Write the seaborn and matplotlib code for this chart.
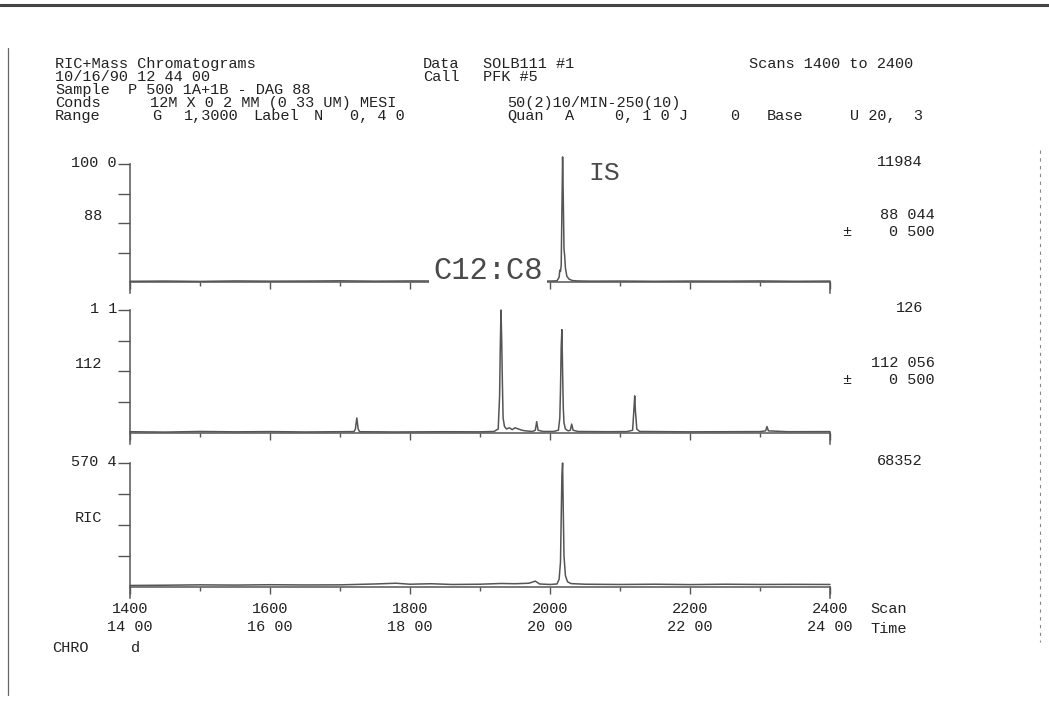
import matplotlib
matplotlib.use("Agg")
import matplotlib.pyplot as plt
from matplotlib.lines import Line2D
import seaborn as sns
import pandas as pd

# ---------------- data ----------------
scan_88 = [1400, 1450, 1500, 1550, 1600, 1650, 1700, 1750, 1800, 1850, 1900, 1950, 2000,
           2010, 2013, 2014, 2015, 2016, 2017, 2018, 2019, 2020, 2021, 2022, 2024, 2027, 2032,
           2040, 2060, 2100, 2150, 2200, 2250, 2300, 2350, 2400]
int_88 = [0.6, 0.8, 0.5, 0.9, 0.7, 0.8, 1.0, 0.7, 0.9, 0.8, 0.7, 0.9, 0.8,
          1.0, 4, 10, 9, 14, 60, 106, 70, 28, 22, 12, 5, 2.5, 1.2,
          0.9, 0.7, 0.8, 0.6, 0.8, 0.7, 0.9, 0.6, 0.8]

scan_112 = [1400, 1450, 1500, 1550, 1600, 1650, 1700, 1720, 1722, 1724, 1726, 1728, 1780, 1850,
            1900, 1920, 1926, 1928, 1929, 1930, 1931, 1932, 1933, 1935, 1938, 1942, 1946, 1950,
            1955, 1960, 1965, 1975, 1979, 1981, 1983, 1990, 2005, 2012, 2014, 2015, 2016, 2017,
            2018, 2019, 2020, 2022, 2026, 2029, 2031, 2033, 2040, 2080, 2110, 2118, 2120, 2121,
            2122, 2124, 2128, 2200, 2250, 2300, 2308, 2310, 2312, 2340, 2400]
int_112 = [0.8, 0.5, 1.0, 0.7, 0.9, 0.6, 0.8, 0.9, 3, 12, 3, 0.8, 0.6, 0.8,
           0.7, 1.0, 3, 30, 70, 100, 75, 40, 12, 5, 3, 4, 2.5, 4,
           3, 2, 1.5, 1.0, 2, 9, 2, 1, 1.0, 2, 12, 35, 70, 84,
           50, 20, 8, 3, 1.5, 2, 7, 2, 1, 0.8, 0.9, 2, 20, 30,
           18, 3, 1, 0.7, 0.8, 0.9, 1.5, 5, 1.5, 0.8, 0.9]

scan_ric = [1400, 1450, 1500, 1550, 1600, 1650, 1700, 1750, 1780, 1800, 1830, 1860, 1900, 1930,
            1950, 1970, 1979, 1985, 2000, 2010, 2013, 2015, 2016, 2017, 2018, 2019, 2020, 2022,
            2025, 2030, 2050, 2100, 2150, 2200, 2250, 2300, 2350, 2400]
int_ric = [1.0, 1.2, 1.5, 1.3, 1.6, 1.4, 1.5, 2.2, 2.8, 2.0, 2.4, 1.8, 2.0, 2.6,
           2.4, 2.8, 4.5, 2.2, 1.8, 2.2, 6, 20, 55, 90, 100, 60, 25, 9,
           4, 2.5, 2.0, 1.8, 2.0, 1.7, 2.0, 1.8, 1.9, 1.8]

scan_major = [1400, 1600, 1800, 2000, 2200, 2400]
scan_minor = [1500, 1700, 1900, 2100, 2300]
time_labels = ["14 00", "16 00", "18 00", "20 00", "22 00", "24 00"]
y_ticks = [25, 50, 75, 100]

# header text groups: (left px, right px, y px of the text middle, text, align)
header_groups = [
    (55, 310, 63, "RIC+Mass Chromatograms", "left"), (423, 455, 63, "Data", "left"),
    (483, 578, 63, "SOLB111 #1", "left"), (727, 935, 63, "Scans 1400 to 2400", "center"),
    (55, 250, 76, "10/16/90 12 44 00", "left"), (423, 452, 76, "Call", "left"),
    (483, 545, 76, "PFK #5", "left"),
    (55, 112, 89, "Sample", "left"), (128, 310, 89, "P 500 1A+1B - DAG 88", "left"),
    (55, 103, 102, "Conds", "left"), (150, 480, 102, "12M X 0 2 MM (0 33 UM) MESI", "left"),
    (507, 652, 102, "50(2)10/MIN-250(10)", "left"),
    (55, 103, 115, "Range", "left"), (152, 162, 115, "G", "left"), (183, 240, 115, "1,3000", "center"),
    (253, 300, 115, "Label", "center"), (313, 323, 115, "N", "center"), (347, 407, 115, "0, 4 0", "center"),
    (507, 545, 115, "Quan", "left"), (565, 575, 115, "A", "center"), (603, 700, 115, "0, 1 0 J", "center"),
    (730, 740, 115, "0", "center"), (760, 810, 115, "Base", "center"), (842, 930, 115, "U 20,  3", "center"),
]

panels = [
    dict(scan=scan_88, inten=int_88, top=164, bot=282, full="100 0", ion="88",
         count="11984", mass="88 044", tol="0 500"),
    dict(scan=scan_112, inten=int_112, top=310, bot=432.7, full="1 1", ion="112",
         count="126", mass="112 056", tol="0 500"),
    dict(scan=scan_ric, inten=int_ric, top=463, bot=586.7, full="570 4", ion="RIC",
         count="68352", mass=None, tol=None),
]

# ---------------- drawing ----------------
sns.set_style("ticks")
plt.rcParams["font.family"] = ["Liberation Mono", "DejaVu Sans Mono", "DejaVu Sans"]

W, H = 1049, 705
INK = "#222222"
LINE = "#555555"
FS = 11
fig = plt.figure(figsize=(W / 100, H / 100), dpi=100)
fig.patch.set_facecolor("white")


def px(x, y):
    return x / W, 1 - y / H


def ftext(x, y, s, ha="left", size=FS, **kw):
    # y is the middle of the capitals; draw on the baseline below it
    fx, fy = px(x, y + 5)
    fig.text(fx, fy, s, ha=ha, va="baseline", fontsize=size, color=kw.pop("color", INK), **kw)


for xs, xe, y, text, align in header_groups:
    if align == "left":
        ftext(xs, y, text, ha="left")
    else:
        ftext((xs + xe) / 2, y, text, ha="center")

x0, x1 = 130, 830
for i, p in enumerate(panels):
    ax = fig.add_axes([x0 / W, 1 - p["bot"] / H, (x1 - x0) / W, (p["bot"] - p["top"]) / H])
    df = pd.DataFrame({"scan": p["scan"], "intensity": p["inten"]})
    sns.lineplot(data=df, x="scan", y="intensity", ax=ax, color=LINE, linewidth=1.1,
                 estimator=None, sort=True, clip_on=False)
    ax.set_xlim(1400, 2400)
    ax.set_ylim(0, 100)
    ax.set_xlabel("")
    ax.set_ylabel("")
    ax.patch.set_alpha(0)
    ax.spines["top"].set_visible(False)
    for sp in ["left", "bottom", "right"]:
        ax.spines[sp].set_color(LINE)
        ax.spines[sp].set_linewidth(1.1)
    ax.spines["left"].set_bounds(-9, 100)
    ax.spines["right"].set_bounds(-9, 0)
    ax.set_yticks(y_ticks)
    ax.set_yticklabels([])
    ax.tick_params(axis="y", direction="out", length=9, width=1.0, colors=LINE)
    ax.set_xticks(scan_major)
    ax.set_xticks(scan_minor, minor=True)
    ax.tick_params(axis="x", which="major", direction="out", length=5, width=1.0, colors=LINE)
    ax.tick_params(axis="x", which="minor", direction="out", length=3, width=1.0, colors=LINE)
    if i == 2:
        ax.set_xticklabels([f"{s}\n{t}" for s, t in zip(scan_major, time_labels)],
                           fontsize=FS, color=INK, linespacing=1.35)
        ax.tick_params(axis="x", which="major", pad=6, labelcolor=INK)
    else:
        ax.set_xticklabels([])

    top, bot = p["top"], p["bot"]
    mid = (top + bot) / 2
    ftext(117, top - 2, p["full"], ha="right")
    ftext(102, mid - 8, p["ion"], ha="right")
    ftext(923, top - 3, p["count"], ha="right")
    if p["mass"]:
        ftext(935, mid - 9, p["mass"], ha="right")
        ftext(842, mid + 8, "\u00b1", ha="left")
        ftext(935, mid + 8, p["tol"], ha="right")
    if i == 0:
        ax.text(2077, 92, "IS", fontsize=19, color="#4a4a4a", family="Liberation Mono",
                ha="center", va="center")
        ax.text(1911, 9, "C12:C8", fontsize=22, color="#4a4a4a", family="Liberation Mono",
                ha="center", va="center", clip_on=False,
                bbox=dict(facecolor="white", edgecolor="none", pad=3))

ftext(870, 608, "Scan")
ftext(870, 628, "Time")
ftext(52, 647, "CHRO")
ftext(131, 647, "d")

# scanned-page edges
fig.add_artist(Line2D([0, 1], [1 - 5 / H, 1 - 5 / H], transform=fig.transFigure,
                      color="#444444", linewidth=2.2))
fig.add_artist(Line2D([8 / W, 8 / W], [1 - 48 / H, 1 - 695 / H], transform=fig.transFigure,
                      color="#666666", linewidth=0.9))
fig.add_artist(Line2D([1040 / W, 1040 / W], [1 - 150 / H, 1 - 642 / H], transform=fig.transFigure,
                      color="#888888", linewidth=0.8, linestyle=(0, (3, 4))))

fig.savefig("out.png", dpi=100, facecolor="white")
